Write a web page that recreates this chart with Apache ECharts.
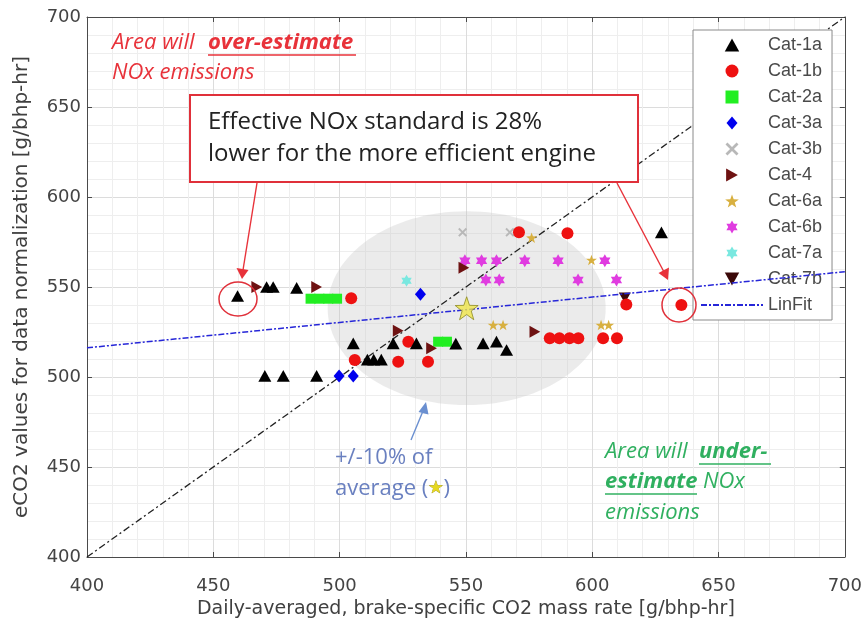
<!DOCTYPE html>
<html>
<head>
<meta charset="utf-8">
<script src="https://cdn.jsdelivr.net/npm/echarts@6/dist/echarts.min.js"></script>
<style>html,body{margin:0;padding:0;background:#fff}#c{width:865px;height:625px}</style>
</head>
<body>
<div id="c"></div>
<script>
// ---------- data ----------
const xTicks = [400, 450, 500, 550, 600, 650, 700];
const yTicks = [400, 450, 500, 550, 600, 650, 700];
const categories = ['Cat-1a','Cat-1b','Cat-2a','Cat-3a','Cat-3b','Cat-4','Cat-6a','Cat-6b','Cat-7a','Cat-7b'];
const cat1a = [[459.6,545],[471.1,550],[473.7,550],[483,549.5],[505.4,518.7],[521.2,518.7],[530.4,518.7],[546,518.5],
  [511,509.6],[513.5,509.6],[516.5,509.6],[470.4,500.6],[477.7,500.6],[490.9,500.6],[556.8,518.7],[562.1,519.6],[566.1,515],[627.4,580.4]];
const cat1b = [[504.6,543.7],[527.2,519.6],[506,509.4],[523.2,508.5],[535,508.5],[571,580.4],[590.2,579.8],
  [583.2,521.5],[587,521.5],[591,521.5],[594.5,521.5],[604.3,521.5],[609.8,521.5],[613.5,540.3],[635.3,540]];
const cat2a = [[488.5,543.5],[492,543.5],[495.5,543.5],[499,543.5],[539,519.6],[542.5,519.6]];
const cat3a = [[499.8,500.6],[505.4,500.6],[532,546]];
const cat3b = [[548.7,580.4],[567.4,580.4]];
const cat4  = [[467.2,550],[490.9,550],[523.2,525.7],[536.4,516],[549.2,560.7],[577.3,525.2]];
const cat6a = [[576,577.4],[599.7,565],[560.8,528.9],[564.7,528.9],[603.5,528.9],[606.5,528.9]];
const cat6b = [[549.6,564.6],[556.2,564.6],[562.1,564.6],[573.3,564.6],[586.5,564.6],[605,564.6],
  [557.9,553.9],[563.2,553.9],[594.4,553.9],[609.6,553.9]];
const cat7a = [[526.5,553.5]];
const cat7b = [[612.9,544]];
const avgX = 550.3, avgY = 538.2;       // average (star)
const bandFrac = 0.10;                   // +/-10% of average
const linFitX = [400, 700], linFitY = [516.2, 558.5];
const diagX = [400, 700], diagY = [400, 700];

// ---------- symbols ----------
const SYM = {
  up: 'path://M5,0L10,9L0,9Z',
  right: 'path://M0,0L9,5L0,10Z',
  down: 'path://M0,0L10,0L5,9Z',
  square: 'path://M0,0L10,0L10,10L0,10Z',
  diamond: 'path://M5.5,0L11,6.5L5.5,13L0,6.5Z',
  star5: 'path://M10,0L12.35,6.76L19.51,6.91L13.8,11.24L15.88,18.09L10,14L4.12,18.09L6.2,11.24L0.49,6.91L7.65,6.76Z',
  star6: 'path://M10,0L12.89,5L18.66,5L15.77,10L18.66,15L12.89,15L10,20L7.11,15L1.34,15L4.23,10L1.34,5L7.11,5Z',
  cross: 'path://M0,1.5L1.5,0L5,3.5L8.5,0L10,1.5L6.5,5L10,8.5L8.5,10L5,6.5L1.5,10L0,8.5L3.5,5Z'
};
const catStyle = [
  {d:cat1a, s:SYM.up, c:'#000000', z:13, sz:13},
  {d:cat1b, s:'circle', c:'#ee1111', z:12, sz:12},
  {d:cat2a, s:SYM.square, c:'#22ee22', z:10, sz:10},
  {d:cat3a, s:SYM.diamond, c:'#0000ee', z:12, sz:13},
  {d:cat3b, s:SYM.cross, c:'#b8b8b8', z:9, sz:9},
  {d:cat4, s:SYM.right, c:'#6e1212', z:11, sz:12},
  {d:cat6a, s:SYM.star5, c:'#d8b040', z:11, sz:11},
  {d:cat6b, s:SYM.star6, c:'#e03ce0', z:10, sz:13},
  {d:cat7a, s:SYM.star6, c:'#7ae8e0', z:10, sz:12},
  {d:cat7b, s:SYM.down, c:'#3a0808', z:11, sz:12}
];

const F = 'Liberation Sans, Arial, sans-serif';
const TF = 'DejaVu Sans, sans-serif';
const AF = 'Open Sans, Noto Sans, sans-serif';

const series = [];
series.push({
  type:'custom', name:'band', z:1, silent:true,
  data:[[avgX, avgY]],
  renderItem:function(params, api){
    const c = api.coord([api.value(0), api.value(1)]);
    const s = api.size([api.value(0)*bandFrac, api.value(1)*bandFrac]);
    return {type:'ellipse', shape:{cx:c[0], cy:c[1], rx:s[0], ry:s[1]}, style:{fill:'rgba(195,195,195,0.34)'}};
  }
});
series.push({
  type:'line', name:'diag', z:2, symbol:'none', silent:true,
  data: diagX.map((x,i)=>[x, diagY[i]]),
  lineStyle:{color:'#222', width:1.3, type:[7,3,2,3]}
});
catStyle.forEach((cs,i)=>{
  series.push({
    type:'scatter', name:categories[i], z:cs.z,
    data: cs.d, symbol: cs.s, symbolSize: cs.sz, symbolKeepAspect:true,
    itemStyle:{color:cs.c, opacity:1}
  });
});
series.push({
  type:'line', name:'LinFit', z:14, symbol:'none',
  data: linFitX.map((x,i)=>[x, linFitY[i]]),
  lineStyle:{color:'#2626d8', width:1.5, type:[6,2,2,2]}
});
series.push({
  type:'scatter', name:'avg', z:15, symbol:SYM.star5, symbolSize:23,
  data:[[avgX, avgY]],
  itemStyle:{color:'#f0e64a', borderColor:'#8c8a22', borderWidth:1}
});

const axisCommon = {
  type:'value', min:400, max:700, interval:50,
  axisLine:{show:true, onZero:false, lineStyle:{color:'#4a4a4a', width:1}},
  axisTick:{show:true, inside:true, length:5, lineStyle:{color:'#4a4a4a'}},
  minorTick:{show:false, splitNumber:5},
};

const legendData = categories.map(n=>({name:n})).concat([{name:'LinFit', itemStyle:{opacity:0}}]);

const option = {
  animation:false,
  backgroundColor:'#fff',
  grid:{left:87, right:20, top:17, bottom:68},
  xAxis:[
    Object.assign({}, axisCommon, {position:'bottom',
      name:'Daily-averaged, brake-specific CO2 mass rate [g/bhp-hr]', nameLocation:'middle', nameGap:42,
      nameTextStyle:{fontFamily:TF, fontSize:19, color:'#404040'},
      axisLabel:{margin:20, fontFamily:TF, fontSize:18, color:'#444', formatter:v=>xTicks.includes(v)?String(v):''},
      splitLine:{show:true, lineStyle:{color:'#dcdcdc', width:1}},
      minorSplitLine:{show:true, lineStyle:{color:'#eeeeee', width:1}}}),
    Object.assign({}, axisCommon, {position:'top', axisLabel:{show:false}, splitLine:{show:false}})
  ],
  yAxis:[
    Object.assign({}, axisCommon, {position:'left',
      name:'eCO2 values for data normalization [g/bhp-hr]', nameLocation:'middle', nameGap:55,
      nameTextStyle:{fontFamily:TF, fontSize:20, color:'#404040'},
      axisLabel:{margin:6, fontFamily:TF, fontSize:18, color:'#444', formatter:v=>yTicks.includes(v)?String(v):''},
      splitLine:{show:true, lineStyle:{color:'#dcdcdc', width:1}},
      minorSplitLine:{show:true, lineStyle:{color:'#eeeeee', width:1}}}),
    Object.assign({}, axisCommon, {position:'right', axisLabel:{show:false}, splitLine:{show:false}})
  ],
  legend:{
    orient:'vertical', left:693, top:30,
    data: legendData, symbolKeepAspect:true,
    backgroundColor:'#fff', borderColor:'#8a8a8a', borderWidth:1,
    padding:[6,10,6,7], itemGap:8, itemWidth:62, itemHeight:13,
    textStyle:{fontFamily:F, fontSize:18, color:'#4a4a4a'},
    selectedMode:false
  },
  series: series,
  graphic: [
    // red annotation (over-estimate)
    {type:'text', x:112, y:43, z:20, style:{text:'Area will', fontFamily:AF, fontStyle:'italic', fontSize:22, fill:'#e8323a', verticalAlign:'middle'}},
    {type:'text', x:208, y:43, z:20, style:{text:'over-estimate', fontFamily:AF, fontStyle:'italic', fontWeight:'bold', fontSize:22, fill:'#e8323a', verticalAlign:'middle'}},
    {type:'line', z:20, shape:{x1:208, y1:55, x2:356, y2:55}, style:{stroke:'#e8323a', lineWidth:1.3}},
    {type:'text', x:112, y:73, z:20, style:{text:'NOx emissions', fontFamily:AF, fontStyle:'italic', fontSize:22, fill:'#e8323a', verticalAlign:'middle'}},
    // box
    {type:'rect', z:18, shape:{x:190, y:95, width:448, height:87}, style:{fill:'#fff', stroke:'#e0303a', lineWidth:2}},
    {type:'text', x:208, y:122, z:20, style:{text:'Effective NOx standard is 28%', fontFamily:AF, fontSize:24, fill:'#222', verticalAlign:'middle'}},
    {type:'text', x:208, y:154, z:20, style:{text:'lower for the more efficient engine', fontFamily:AF, fontSize:24, fill:'#222', verticalAlign:'middle'}},
    // red arrows
    {type:'line', z:20, shape:{x1:257, y1:183, x2:243, y2:270}, style:{stroke:'#e8323a', lineWidth:1.4}},
    {type:'polygon', z:20, shape:{points:[[242,279],[236.5,268],[248.5,270]]}, style:{fill:'#e8323a'}},
    {type:'line', z:20, shape:{x1:617, y1:183, x2:664, y2:272}, style:{stroke:'#e8323a', lineWidth:1.4}},
    {type:'polygon', z:20, shape:{points:[[668,280],[658.5,273],[669,267.5]]}, style:{fill:'#e8323a'}},
    // red circles
    {type:'ellipse', z:20, shape:{cx:238, cy:299, rx:19, ry:17}, style:{fill:'none', stroke:'#e0303a', lineWidth:1.5}},
    {type:'ellipse', z:20, shape:{cx:679, cy:305, rx:17, ry:17}, style:{fill:'none', stroke:'#e0303a', lineWidth:1.5}},
    // blue annotation
    {type:'line', z:20, shape:{x1:411, y1:440, x2:423, y2:411}, style:{stroke:'#6a8fd0', lineWidth:1.4}},
    {type:'polygon', z:20, shape:{points:[[426,402],[418.5,412],[428.5,414.5]]}, style:{fill:'#6a8fd0'}},
    {type:'text', x:335, y:458, z:20, style:{text:'+/-10% of', fontFamily:AF, fontSize:22, fill:'#6a80c0', verticalAlign:'middle'}},
    {type:'text', x:335, y:489, z:20, style:{text:'average ({s|★})', rich:{s:{fill:'#e6d820', fontSize:17, stroke:'#9a9020', lineWidth:0.6, fontFamily:'DejaVu Sans'}}, fontFamily:AF, fontSize:22, fill:'#6a80c0', verticalAlign:'middle'}},
    // green annotation
    {type:'text', x:605, y:452, z:20, style:{text:'Area will', fontFamily:AF, fontStyle:'italic', fontSize:22, fill:'#30b060', verticalAlign:'middle'}},
    {type:'text', x:699, y:452, z:20, style:{text:'under-', fontFamily:AF, fontStyle:'italic', fontWeight:'bold', fontSize:22, fill:'#30b060', verticalAlign:'middle'}},
    {type:'line', z:20, shape:{x1:699, y1:464, x2:771, y2:464}, style:{stroke:'#30b060', lineWidth:1.3}},
    {type:'text', x:605, y:482, z:20, style:{text:'estimate', fontFamily:AF, fontStyle:'italic', fontWeight:'bold', fontSize:22, fill:'#30b060', verticalAlign:'middle'}},
    {type:'line', z:20, shape:{x1:605, y1:494, x2:697, y2:494}, style:{stroke:'#30b060', lineWidth:1.3}},
    {type:'text', x:703, y:482, z:20, style:{text:'NOx', fontFamily:AF, fontStyle:'italic', fontSize:22, fill:'#30b060', verticalAlign:'middle'}},
    {type:'text', x:605, y:513, z:20, style:{text:'emissions', fontFamily:AF, fontStyle:'italic', fontSize:22, fill:'#30b060', verticalAlign:'middle'}}
  ]
};
const chart = echarts.init(document.getElementById('c'), null, {renderer:'canvas'});
chart.setOption(option);
</script>
</body>
</html>
